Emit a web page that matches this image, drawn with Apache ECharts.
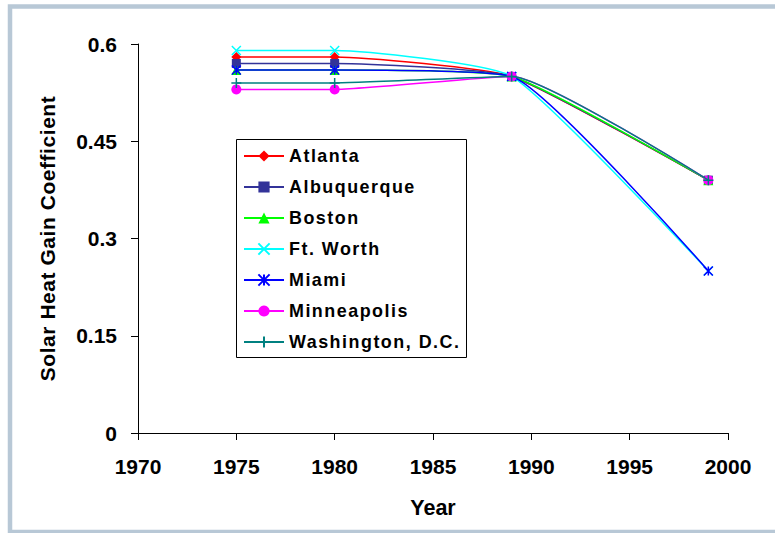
<!DOCTYPE html>
<html>
<head>
<meta charset="utf-8">
<script src="https://cdn.jsdelivr.net/npm/echarts@6/dist/echarts.min.js"></script>
<style>
  html, body { margin: 0; padding: 0; background: #fff; }
  #chart { width: 775px; height: 533px; }
  #chart text[style*="17.9px"] { letter-spacing: 1.5px; }
  #chart text[style*="20.9px"] { letter-spacing: 0.6px; }
</style>
</head>
<body>
<div id="chart"></div>
<script>
// ---- data ----
const years = [1975, 1980, 1989, 1999];
const seriesNames = ['Atlanta', 'Albuquerque', 'Boston', 'Ft. Worth', 'Miami', 'Minneapolis', 'Washington, D.C.'];
const atlanta     = [0.58, 0.58, 0.55, 0.39];
const albuquerque = [0.57, 0.57, 0.55, 0.39];
const boston      = [0.56, 0.56, 0.55, 0.39];
const ftWorth     = [0.59, 0.59, 0.55, 0.25];
const miami       = [0.56, 0.56, 0.55, 0.25];
const minneapolis = [0.53, 0.53, 0.55, 0.39];
const washington  = [0.54, 0.54, 0.55, 0.39];
const xTicks = [1970, 1975, 1980, 1985, 1990, 1995, 2000];
const yTicks = [0, 0.15, 0.3, 0.45, 0.6];

const values = [atlanta, albuquerque, boston, ftWorth, miami, minneapolis, washington];
const colors = ['#FF0000', '#333399', '#00FF00', '#00FFFF', '#0000FF', '#FF00FF', '#008080'];
const symbols = [
  'diamond', 'rect', 'triangle',
  'path://M0,0L10,10M10,0L0,10',
  'path://M0,0L10,10M10,0L0,10M5,0L5,10',
  'circle',
  'path://M5,0L5,10M0,5L10,5'
];
const symbolSizes = [10, 9, 10, 9, 9, 10, 10];
const stroked = [false, false, false, true, true, false, true];

const FONT = '"Liberation Sans", Arial, sans-serif';

const chart = echarts.init(document.getElementById('chart'), null, { renderer: 'svg' });

const series = seriesNames.map((name, i) => ({
  name: name,
  type: 'line',
  smooth: 0.15,
  data: years.map((y, j) => [y, values[i][j]]),
  symbol: symbols[i],
  symbolSize: symbolSizes[i],
  showAllSymbol: true,
  lineStyle: { color: colors[i], width: 1.5 },
  itemStyle: {
    color: colors[i],
    borderColor: colors[i],
    borderWidth: stroked[i] ? 1.5 : 0
  },
  emphasis: { disabled: true },
  z: 2 + i
}));

chart.setOption({
  animation: false,
  backgroundColor: '#ffffff',
  grid: { left: 138, right: 47, top: 44, bottom: 100, containLabel: false },
  xAxis: {
    type: 'value',
    min: xTicks[0],
    max: xTicks[xTicks.length - 1],
    interval: 5,
    name: 'Year',
    nameLocation: 'middle',
    nameGap: 64,
    nameTextStyle: { fontFamily: FONT, fontWeight: 'bold', fontSize: 21.5, color: '#000' },
    axisLine: { show: true, lineStyle: { color: '#000', width: 1 } },
    axisTick: { show: true, inside: false, length: 7, lineStyle: { color: '#000', width: 1 } },
    axisLabel: { fontFamily: FONT, fontWeight: 'bold', fontSize: 21, color: '#000', margin: 23,
      formatter: v => String(v) },
    splitLine: { show: false }
  },
  yAxis: {
    type: 'value',
    min: yTicks[0],
    max: yTicks[yTicks.length - 1],
    interval: 0.15,
    name: 'Solar Heat Gain Coefficient',
    nameLocation: 'middle',
    nameGap: 80,
    nameRotate: 90,
    nameTextStyle: { fontFamily: FONT, fontWeight: 'bold', fontSize: 20.9, color: '#000' },
    axisLine: { show: true, lineStyle: { color: '#000', width: 1 } },
    axisTick: { show: true, inside: false, length: 7, lineStyle: { color: '#000', width: 1 } },
    axisLabel: { fontFamily: FONT, fontWeight: 'bold', fontSize: 21, color: '#000', margin: 21,
      formatter: v => String(+v.toFixed(2)) },
    splitLine: { show: false }
  },
  legend: {
    data: seriesNames,
    orient: 'vertical',
    left: 243,
    top: 147,
    padding: 0,
    itemWidth: 40,
    itemHeight: 14,
    itemGap: 13,
    textStyle: { fontFamily: FONT, fontWeight: 'bold', fontSize: 17.9, color: '#000', padding: [0, 0, 0, 0] },
    selectedMode: false
  },
  graphic: [
    {
      type: 'rect',
      shape: { x: 10, y: 6.5, width: 900, height: 525.5 },
      style: { fill: 'none', stroke: '#b8c8d6', lineWidth: 4.5 },
      silent: true, z: 100
    },
    {
      type: 'rect',
      shape: { x: 236.5, y: 139.5, width: 230, height: 218 },
      style: { fill: 'none', stroke: '#000', lineWidth: 1 },
      silent: true, z: 100
    }
  ],
  series: series
});
</script>
</body>
</html>
